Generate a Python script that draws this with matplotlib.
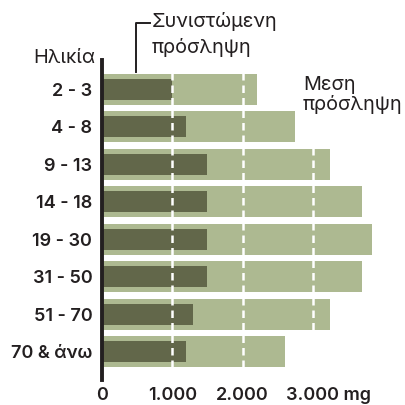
import matplotlib.pyplot as plt
import matplotlib.transforms as mtransforms

ages = ["2 - 3", "4 - 8", "9 - 13", "14 - 18", "19 - 30", "31 - 50", "51 - 70", "70 & άνω"]
avg_intake = [2200, 2750, 3250, 3700, 3850, 3700, 3250, 2600]
recommended = [1000, 1200, 1500, 1500, 1500, 1500, 1300, 1200]
xticks = [0, 1000, 2000, 3000]
xtick_labels = ["0", "1.000", "2.000", "3.000 mg"]

light = "#adb991"
dark = "#62674a"
ink = "#231f20"
font = "Inter"

W = 405
fig = plt.figure(figsize=(4.05, 4.05), dpi=100)
ax = fig.add_axes([102 / W, 1 - 380 / W, 281 / W, 320 / W])

y = list(range(len(ages)))
ax.barh(y, avg_intake, height=0.83, color=light, zorder=1)
ax.barh(y, recommended, height=0.56, color=dark, zorder=2)

for v in [1000, 2000, 3000]:
    ax.axvline(v, color="white", lw=1.8, ls=(0, (3, 2)), zorder=3)

ax.set_xlim(0, 4000)
ax.set_ylim(7.75, -0.78)

for s in ["top", "right", "bottom"]:
    ax.spines[s].set_visible(False)
ax.spines["left"].set_linewidth(2.8)
ax.spines["left"].set_color(ink)
ax.spines["left"].set_zorder(5)

ax.set_yticks(y, ages)
ax.set_xticks(xticks, xtick_labels)
ax.tick_params(axis="y", length=0, pad=7)
ax.tick_params(axis="x", length=0, pad=5)
for lbl in ax.get_yticklabels() + ax.get_xticklabels():
    lbl.set_fontfamily(font)
    lbl.set_fontsize(13)
    lbl.set_fontweight("semibold")
    lbl.set_color(ink)

# shift the last x label so "3.000" sits under its gridline
last = ax.get_xticklabels()[-1]
last.set_horizontalalignment("left")
last.set_transform(last.get_transform() + mtransforms.ScaledTranslation(-27 / 100, 0, fig.dpi_scale_trans))

# leader line for recommended intake
ax.plot([480, 480, 690], [-0.46, -1.77, -1.77], color=ink, lw=1.4,
        clip_on=False, zorder=6)

def ftext(px, py, s, **kw):
    fig.text(px / W, 1 - py / W, s, fontfamily=font, fontsize=14.3,
             color=ink, va="baseline", **kw)

ftext(152, 27, "Συνιστώμενη")
ftext(152, 53, "πρόσληψη")
ftext(303, 90, "Μεση")
ftext(303, 110, "πρόσληψη")
ftext(33, 63, "Ηλικία")

fig.savefig("out.png", dpi=100)
